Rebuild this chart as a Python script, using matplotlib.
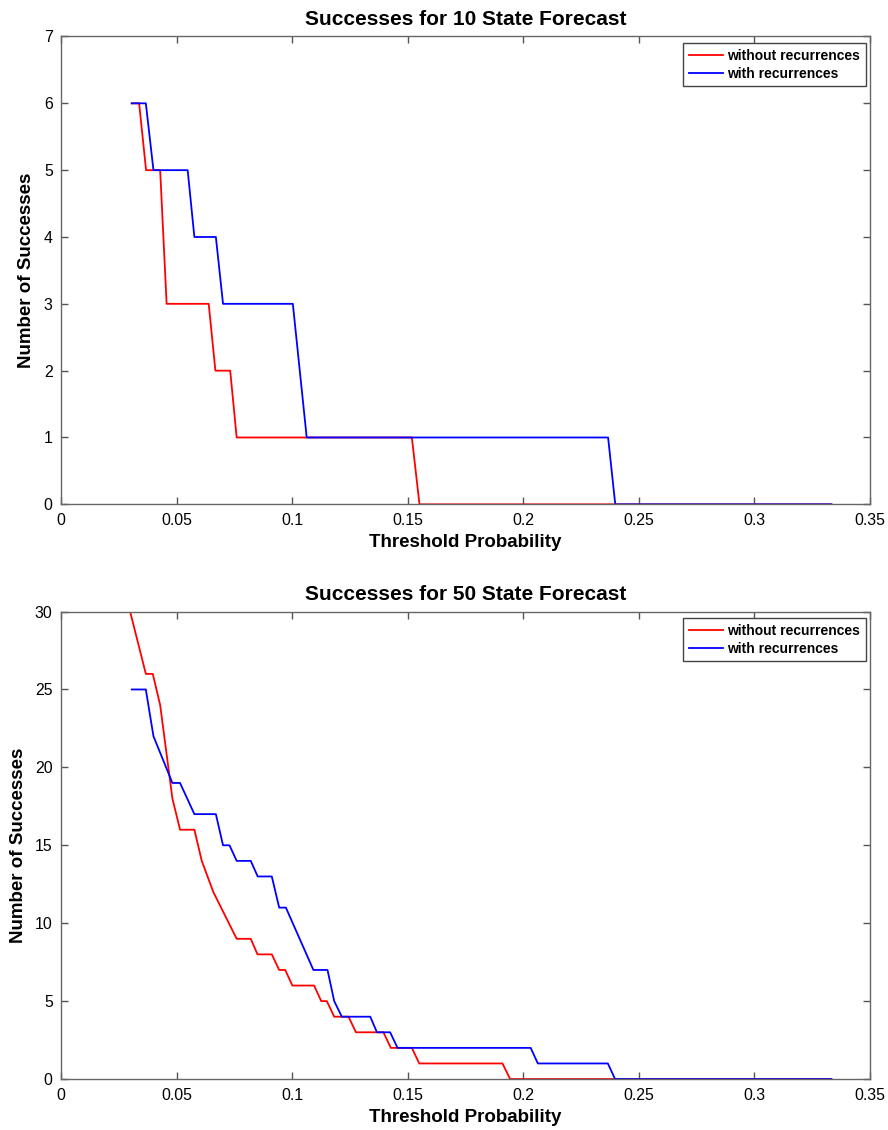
import numpy as np
import matplotlib
matplotlib.use("Agg")
import matplotlib.pyplot as plt

plt.rcParams['font.family'] = ['Liberation Sans', 'DejaVu Sans']

# 10 state forecast
red10_x = [0.0306, 0.0338, 0.0368, 0.0429, 0.0457, 0.0639, 0.0668, 0.0732, 0.0760, 0.1518, 0.1551, 0.3333]
red10_y = [6, 6, 5, 5, 3, 3, 2, 2, 1, 1, 0, 0]
blue10_x = [0.0306, 0.0367, 0.0400, 0.0548, 0.0577, 0.0670, 0.0701, 0.1003, 0.1063, 0.2367, 0.2398, 0.3333]
blue10_y = [6, 6, 5, 5, 4, 4, 3, 3, 1, 1, 0, 0]

# 50 state forecast
red50_x = [0.0299, 0.0367, 0.0397, 0.0429, 0.0482, 0.0515, 0.0577, 0.0609, 0.0659, 0.0760,
           0.0821, 0.0850, 0.0912, 0.0944, 0.0970, 0.1001, 0.1095, 0.1126, 0.1150, 0.1182,
           0.1244, 0.1276, 0.1395, 0.1427, 0.1518, 0.1550, 0.1910, 0.1943, 0.3333]
red50_y = [30, 26, 26, 24, 18, 16, 16, 14, 12, 9,
           9, 8, 8, 7, 7, 6, 6, 5, 5, 4,
           4, 3, 3, 2, 2, 1, 1, 0, 0]
blue50_x = [0.0306, 0.0367, 0.0400, 0.0482, 0.0515, 0.0577, 0.0670, 0.0701, 0.0729, 0.0760,
            0.0821, 0.0851, 0.0912, 0.0944, 0.0973, 0.1092, 0.1153, 0.1182, 0.1215, 0.1338,
            0.1367, 0.1424, 0.1456, 0.2032, 0.2063, 0.2366, 0.2397, 0.3333]
blue50_y = [25, 25, 22, 19, 19, 17, 17, 15, 15, 14,
            14, 13, 13, 11, 11, 7, 7, 5, 4, 4,
            3, 3, 2, 2, 1, 1, 0, 0]

xticks = [0, 0.05, 0.1, 0.15, 0.2, 0.25, 0.3, 0.35]
xticklabels = ['0', '0.05', '0.1', '0.15', '0.2', '0.25', '0.3', '0.35']

fig = plt.figure(figsize=(8.88, 11.30), dpi=100)
ax1 = fig.add_axes([0.0687, 0.5537, 0.911, 0.414])
ax2 = fig.add_axes([0.0687, 0.0451, 0.911, 0.4137])


def style(ax, title, ymax, ystep):
    ax.set_xlim(0, 0.35)
    ax.set_ylim(0, ymax)
    ax.set_xticks(xticks)
    ax.set_xticklabels(xticklabels)
    ax.set_yticks(np.arange(0, ymax + 1, ystep))
    ax.tick_params(direction='in', length=5, width=1, color='#555555',
                   labelsize=11.4, top=True, right=True, pad=6)
    ax.tick_params(axis='x', pad=6.5)
    for s in ax.spines.values():
        s.set_color('#666666')
        s.set_linewidth(1)
    ax.set_title(title, fontsize=15, fontweight='bold', pad=8)
    ax.set_xlabel('Threshold Probability', fontsize=13.5, fontweight='bold', labelpad=4)
    ax.set_ylabel('Number of Successes', fontsize=13.5, fontweight='bold', labelpad=6)
    leg = ax.legend(loc='upper right', bbox_to_anchor=(0.995, 0.986), borderaxespad=0,
                    fancybox=False, framealpha=1, edgecolor='#444444',
                    prop={'size': 10, 'weight': 'bold'},
                    handlelength=2.5, handletextpad=0.3, borderpad=0.4, labelspacing=0.3)
    leg.get_frame().set_linewidth(1)


ax1.plot(red10_x, red10_y, color='red', lw=1.3, label='without recurrences')
ax1.plot(blue10_x, blue10_y, color='blue', lw=1.3, label='with recurrences')
style(ax1, 'Successes for 10 State Forecast', 7, 1)

ax2.plot(red50_x, red50_y, color='red', lw=1.3, label='without recurrences')
ax2.plot(blue50_x, blue50_y, color='blue', lw=1.3, label='with recurrences')
style(ax2, 'Successes for 50 State Forecast', 30, 5)

plt.savefig("out.png", dpi=100)
